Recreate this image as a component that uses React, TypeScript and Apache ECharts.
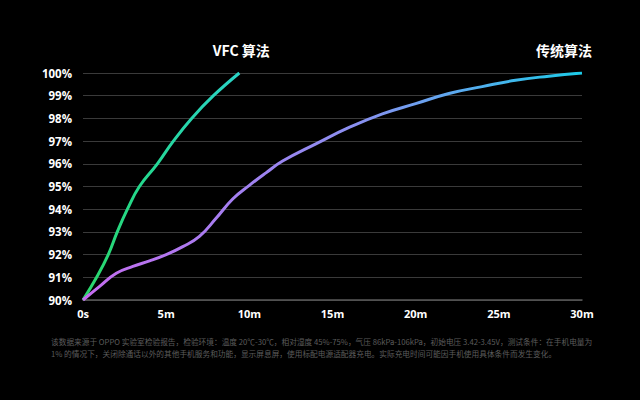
import React, { useEffect, useRef } from 'react';
import * as echarts from 'echarts';

// charging curves, minutes -> battery %
const vfcMinutes = [0, 0.82, 1.52, 2.06, 2.67, 3.39, 4.47, 5.43, 6.53, 7.84, 9.4];
const vfcPercent = [90, 91, 92, 93, 94, 95, 96, 97, 98, 99, 100];

const tradMinutes = [0, 1, 2, 3, 4, 5, 6, 7, 8, 9, 10, 11, 12, 14, 16, 18, 20, 22, 24, 26, 28, 30];
const tradPercent = [
  90, 90.6, 91.18, 91.48, 91.72, 92.0, 92.35, 92.8, 93.6, 94.45, 95.05, 95.6,
  96.12, 96.88, 97.6, 98.2, 98.65, 99.1, 99.4, 99.68, 99.86, 100
];

const seriesNames = ['VFC 算法', '传统算法'];
const xTickLabels = ['0s', '5m', '10m', '15m', '20m', '25m', '30m'];

const footnoteLines = [
  '该数据来源于 OPPO 实验室检验报告，检验环境：温度 20℃-30℃，相对湿度 45%-75%，气压 86kPa-106kPa，初始电压 3.42-3.45V，测试条件：在手机电量为',
  '1% 的情况下，关闭除通话以外的其他手机服务和功能，显示屏息屏，使用标配电源适配器充电。实际充电时间可能因手机使用具体条件而发生变化。'
];

const numFont = '"Open Sans", "Noto Sans CJK SC", sans-serif';
const cjkFont = '"Noto Sans CJK SC", sans-serif';

const App: React.FC = () => {
  const chartRef = useRef<HTMLDivElement>(null);

  useEffect(() => {
    if (!chartRef.current) return;
    const chart = echarts.init(chartRef.current, undefined, { renderer: 'svg' });

    const endLabel = (dx: number) => ({
      show: true,
      position: 'top' as const,
      align: 'center' as const,
      verticalAlign: 'bottom' as const,
      offset: [dx, -16],
      formatter: '{a}',
      color: '#fff',
      fontSize: 14,
      fontWeight: 'bold' as const,
      fontFamily: cjkFont
    });

    const option: echarts.EChartsOption = {
      animation: false,
      backgroundColor: '#000',
      grid: { left: 83, right: 58, top: 73, bottom: 100 },
      xAxis: {
        type: 'value',
        min: 0,
        max: 30,
        interval: 5,
        axisLine: { show: true, lineStyle: { color: '#5a5a5a', width: 1.5 } },
        axisTick: { show: false },
        splitLine: { show: false },
        axisLabel: {
          color: '#fff',
          fontSize: 11,
          fontWeight: 'bold',
          fontFamily: numFont,
          margin: 8,
          formatter: (v: number) => xTickLabels[Math.round(v / 5)] ?? ''
        }
      },
      yAxis: {
        type: 'value',
        min: 90,
        max: 100,
        interval: 1,
        axisLine: { show: false },
        axisTick: { show: false },
        splitLine: { lineStyle: { color: '#3a3a3a', width: 1 } },
        axisLabel: {
          color: '#fff',
          fontSize: 11.5,
          fontWeight: 'bold',
          fontFamily: numFont,
          margin: 11,
          formatter: '{value}%'
        }
      },
      series: [
        {
          name: seriesNames[0],
          type: 'line',
          smooth: 0.45,
          showSymbol: false,
          data: vfcMinutes.map((m, i) => [m, vfcPercent[i]]),
          lineStyle: {
            width: 3,
            color: new echarts.graphic.LinearGradient(0, 1, 0, 0, [
              { offset: 0, color: '#2bd66a' },
              { offset: 0.5, color: '#24d88c' },
              { offset: 1, color: '#2ad3c6' }
            ])
          },
          endLabel: endLabel(-6)
        },
        {
          name: seriesNames[1],
          type: 'line',
          smooth: 0.45,
          showSymbol: false,
          data: tradMinutes.map((m, i) => [m, tradPercent[i]]),
          lineStyle: {
            width: 3,
            color: new echarts.graphic.LinearGradient(0, 0, 1, 0, [
              { offset: 0, color: '#c66cf0' },
              { offset: 0.3, color: '#a47ff0' },
              { offset: 0.55, color: '#8a90f0' },
              { offset: 0.8, color: '#4fb0ee' },
              { offset: 1, color: '#1ccbe8' }
            ])
          },
          endLabel: endLabel(-26)
        }
      ],
      graphic: footnoteLines.map((line, i) => ({
        type: 'text',
        left: 51,
        top: 338 + i * 11.5,
        silent: true,
        style: {
          text: line,
          fill: '#5c5c5c',
          fontSize: 7.7,
          fontFamily: cjkFont
        }
      }))
    };

    chart.setOption(option);
    return () => chart.dispose();
  }, []);

  return (
    <div
      ref={chartRef}
      style={{ position: 'fixed', left: 0, top: 0, width: 640, height: 400, background: '#000' }}
    />
  );
};

export default App;
